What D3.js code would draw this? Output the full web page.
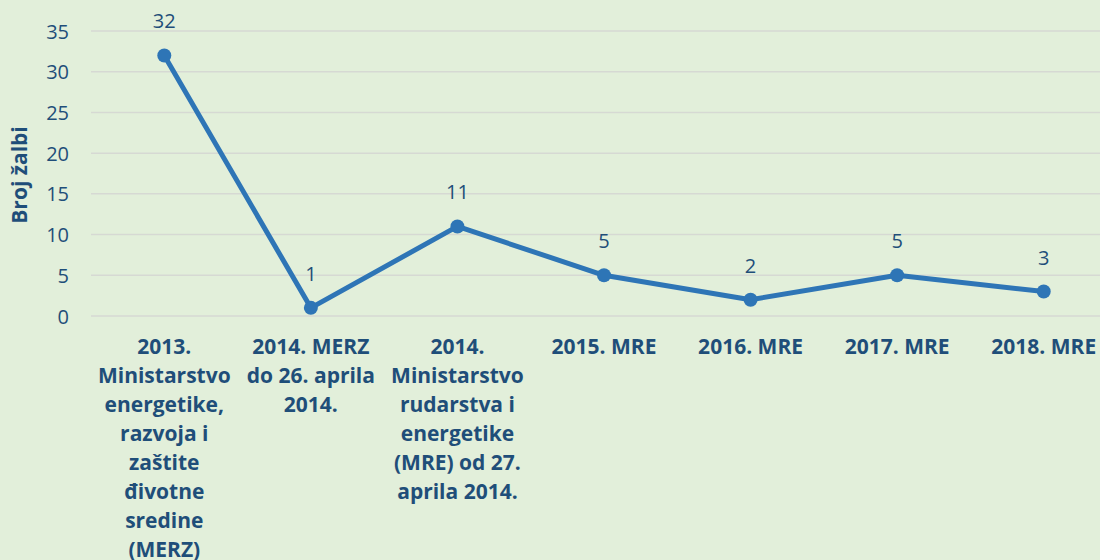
<!DOCTYPE html>
<html><head><meta charset="utf-8">
<script src="https://cdn.jsdelivr.net/npm/d3@7"></script>
<style>html,body{margin:0;padding:0;background:#E2EFDA;overflow:hidden}</style>
</head><body>
<svg id="c" width="1100" height="560"></svg>
<script>
const categories = [
  "2013.\nMinistarstvo\nenergetike,\nrazvoja i\nzaštite\nđivotne\nsredine\n(MERZ)",
  "2014. MERZ\ndo 26. aprila\n2014.",
  "2014.\nMinistarstvo\nrudarstva i\nenergetike\n(MRE) od 27.\naprila 2014.",
  "2015. MRE",
  "2016. MRE",
  "2017. MRE",
  "2018. MRE"
];
const values = [32, 1, 11, 5, 2, 5, 3];
const yTicks = [0, 5, 10, 15, 20, 25, 30, 35];
const yTitle = "Broj žalbi";

const svg = d3.select("#c");
const W = 1100, H = 560;
svg.append("rect").attr("width", W).attr("height", H).attr("fill", "#E2EFDA");
const font = "'Open Sans', sans-serif";
const textColor = "#1F4E79";

const x = d3.scaleBand().domain(categories).range([91, 1117]);
const y = d3.scaleLinear().domain([0, 35]).range([316, 31]);

// gridlines
svg.append("g").selectAll("line").data(yTicks).join("line")
  .attr("x1", 91).attr("x2", W)
  .attr("y1", d => y(d)).attr("y2", d => y(d))
  .attr("stroke", "#D6D9D3").attr("stroke-width", 1.5);

// y axis labels
const yAxis = d3.axisLeft(y).tickValues(yTicks).tickSize(0).tickPadding(0);
const gy = svg.append("g").attr("transform", "translate(69,0)").call(yAxis);
gy.select(".domain").remove();
gy.selectAll("text").attr("font-family", font).attr("font-size", 20)
  .attr("fill", textColor).attr("dy", "0.35em");

// y title
svg.append("text").attr("transform", "translate(27,175) rotate(-90)")
  .attr("text-anchor", "middle").attr("font-family", font).attr("font-size", 21)
  .attr("font-weight", "bold").attr("fill", textColor).text(yTitle);

// x labels
const cx = d => x(d) + x.bandwidth() / 2;
const xl = svg.append("g").selectAll("text").data(categories).join("text")
  .attr("text-anchor", "middle").attr("font-family", font).attr("font-size", 21)
  .attr("font-weight", "bold").attr("fill", textColor)
  .attr("transform", d => `translate(${cx(d)},354)`);
xl.each(function(d) {
  const t = d3.select(this);
  d.split("\n").forEach((ln, i) => {
    t.append("tspan").attr("x", 0).attr("y", i * 29).text(ln);
  });
});

// line
const pts = categories.map((c, i) => [cx(c), y(values[i])]);
svg.append("path").datum(pts)
  .attr("d", d3.line())
  .attr("fill", "none").attr("stroke", "#2E75B6").attr("stroke-width", 5)
  .attr("stroke-linejoin", "round");
svg.append("g").selectAll("circle").data(pts).join("circle")
  .attr("cx", d => d[0]).attr("cy", d => d[1]).attr("r", 7).attr("fill", "#2E75B6");

// data labels
svg.append("g").selectAll("text").data(categories).join("text")
  .attr("x", d => cx(d)).attr("y", (d, i) => y(values[i]) - 27)
  .attr("text-anchor", "middle").attr("font-family", font).attr("font-size", 20)
  .attr("fill", textColor).text((d, i) => values[i]);
</script>
</body></html>
